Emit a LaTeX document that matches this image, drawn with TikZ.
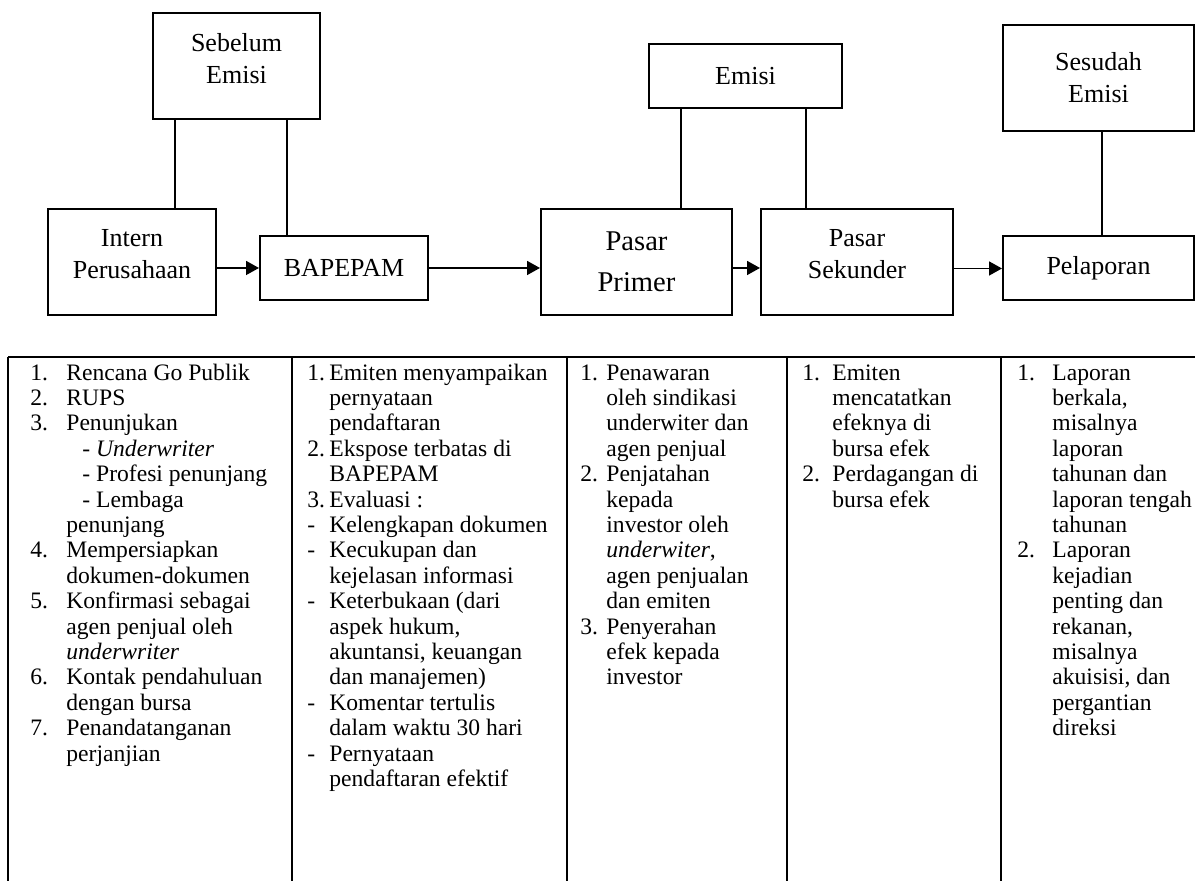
\documentclass[tikz,border=0pt]{standalone}
\usepackage{fontspec}
\setmainfont{Liberation Serif}
\usetikzlibrary{arrows.meta, positioning}

\newlength{\numwd}
\newcommand{\nitem}[2]{\makebox[\numwd][l]{#1}#2}
\newcommand{\cont}[1]{\hspace*{\numwd}#1}
\newcommand{\lift}{\rule[-8.5pt]{0pt}{8.5pt}}
\newcommand{\boxfont}{\fontsize{13}{16}\selectfont}
\newcommand{\bigboxfont}{\fontsize{14.3}{20.5}\selectfont}
\newcommand{\cellfont}{\fontsize{11.8}{12.7}\selectfont}

\begin{document}
\begin{tikzpicture}[x=0.5pt, y=0.5pt,
    box/.style={rectangle, draw=black, line width=1pt, align=center,
        font=\boxfont, inner sep=2pt},
    tallbox/.style={box, minimum height=53pt},
    flatbox/.style={box, minimum height=32pt},
    link/.style={line width=0.8pt},
    arr/.style={line width=0.8pt, -{Triangle[length=6.5pt, width=7pt]}},
    rule/.style={line width=1pt},
    cell/.style={anchor=north west, inner sep=0pt, font=\cellfont}]

    \useasboundingbox (0,0) rectangle (1195,881);

    % tahapan
    \node[tallbox, minimum width=83.5pt] (sebelum) at (236.5,814.5)
    {Sebelum\\Emisi\lift};
    \node[tallbox, minimum width=84pt] (intern) at (132,618.5)
    {Intern\\Perusahaan\lift};
    \node[flatbox, minimum width=84pt] (bapepam) at (344,613) {BAPEPAM};
    \node[flatbox, minimum width=96.5pt] (emisi) at (745.5,805) {Emisi};
    \node[tallbox, minimum width=95.5pt, font=\bigboxfont] (primer)
    at (636.5,619) {Pasar\\Primer};
    \node[tallbox, minimum width=96pt] (sekunder) at (857,618.5)
    {Pasar\\Sekunder\lift};
    \node[tallbox, minimum width=95.5pt] (sesudah) at (1098.5,803)
    {Sesudah\\Emisi};
    \node[flatbox, minimum width=95.5pt] (pelaporan) at (1098.5,612.5)
    {Pelaporan};

    \draw[link] (sebelum.south -| 175,0) -- (intern.north -| 175,0);
    \draw[link] (sebelum.south -| 287,0) -- (bapepam.north -| 287,0);
    \draw[link] (emisi.south -| 681,0) -- (primer.north -| 681,0);
    \draw[link] (emisi.south -| 806,0) -- (sekunder.north -| 806,0);
    \draw[link] (sesudah.south -| 1102,0) -- (pelaporan.north -| 1102,0);

    \draw[arr] (intern.east |- bapepam.west) -- (bapepam.west);
    \draw[arr] (bapepam.east) -- (primer.west |- bapepam.east);
    \draw[arr] (primer.east |- bapepam.east) -- (sekunder.west |- bapepam.east);
    \draw[arr] (sekunder.east |- pelaporan.west) -- (pelaporan.west);

    % tabel
    \draw[rule] (8,524) -- (1195,524);
    \foreach \cx in {8,292,567,787,1001}
        \draw[rule] (\cx,524) -- (\cx,0);

    \node[cell] (intcol) at (30,519) {\setlength{\numwd}{18pt}%
        \begin{tabular}{@{}l@{}}
            \nitem{1.}{Rencana Go Publik}\\
            \nitem{2.}{RUPS}\\
            \nitem{3.}{Penunjukan}\\
            \cont{\hspace*{8pt}- \textit{Underwriter}}\\
            \cont{\hspace*{8pt}- Profesi penunjang}\\
            \cont{\hspace*{8pt}- Lembaga}\\
            \cont{penunjang}\\
            \nitem{4.}{Mempersiapkan}\\
            \cont{dokumen-dokumen}\\
            \nitem{5.}{Konfirmasi sebagai}\\
            \cont{agen penjual oleh}\\
            \cont{\textit{underwriter}}\\
            \nitem{6.}{Kontak pendahuluan}\\
            \cont{dengan bursa}\\
            \nitem{7.}{Penandatanganan}\\
            \cont{perjanjian}
        \end{tabular}};

    \node[cell] (bapcol) at (307,519) {\setlength{\numwd}{11pt}%
        \begin{tabular}{@{}l@{}}
            \nitem{1.}{Emiten menyampaikan}\\
            \cont{pernyataan}\\
            \cont{pendaftaran}\\
            \nitem{2.}{Ekspose terbatas di}\\
            \cont{BAPEPAM}\\
            \nitem{3.}{Evaluasi :}\\
            \nitem{-}{Kelengkapan dokumen}\\
            \nitem{-}{Kecukupan dan}\\
            \cont{kejelasan informasi}\\
            \nitem{-}{Keterbukaan (dari}\\
            \cont{aspek hukum,}\\
            \cont{akuntansi, keuangan}\\
            \cont{dan manajemen)}\\
            \nitem{-}{Komentar tertulis}\\
            \cont{dalam waktu 30 hari}\\
            \nitem{-}{Pernyataan}\\
            \cont{pendaftaran efektif}
        \end{tabular}};

    \node[cell] (prmcol) at (580,519) {\setlength{\numwd}{13pt}%
        \begin{tabular}{@{}l@{}}
            \nitem{1.}{Penawaran}\\
            \cont{oleh sindikasi}\\
            \cont{underwiter dan}\\
            \cont{agen penjual}\\
            \nitem{2.}{Penjatahan}\\
            \cont{kepada}\\
            \cont{investor oleh}\\
            \cont{\textit{underwiter},}\\
            \cont{agen penjualan}\\
            \cont{dan emiten}\\
            \nitem{3.}{Penyerahan}\\
            \cont{efek kepada}\\
            \cont{investor}
        \end{tabular}};

    \node[cell] (sekcol) at (802,519) {\setlength{\numwd}{15pt}%
        \begin{tabular}{@{}l@{}}
            \nitem{1.}{Emiten}\\
            \cont{mencatatkan}\\
            \cont{efeknya di}\\
            \cont{bursa efek}\\
            \nitem{2.}{Perdagangan di}\\
            \cont{bursa efek}
        \end{tabular}};

    \node[cell] (lapcol) at (1017,519) {\setlength{\numwd}{17.5pt}%
        \begin{tabular}{@{}l@{}}
            \nitem{1.}{Laporan}\\
            \cont{berkala,}\\
            \cont{misalnya}\\
            \cont{laporan}\\
            \cont{tahunan dan}\\
            \cont{laporan tengah}\\
            \cont{tahunan}\\
            \nitem{2.}{Laporan}\\
            \cont{kejadian}\\
            \cont{penting dan}\\
            \cont{rekanan,}\\
            \cont{misalnya}\\
            \cont{akuisisi, dan}\\
            \cont{pergantian}\\
            \cont{direksi}
        \end{tabular}};
\end{tikzpicture}
\end{document}
